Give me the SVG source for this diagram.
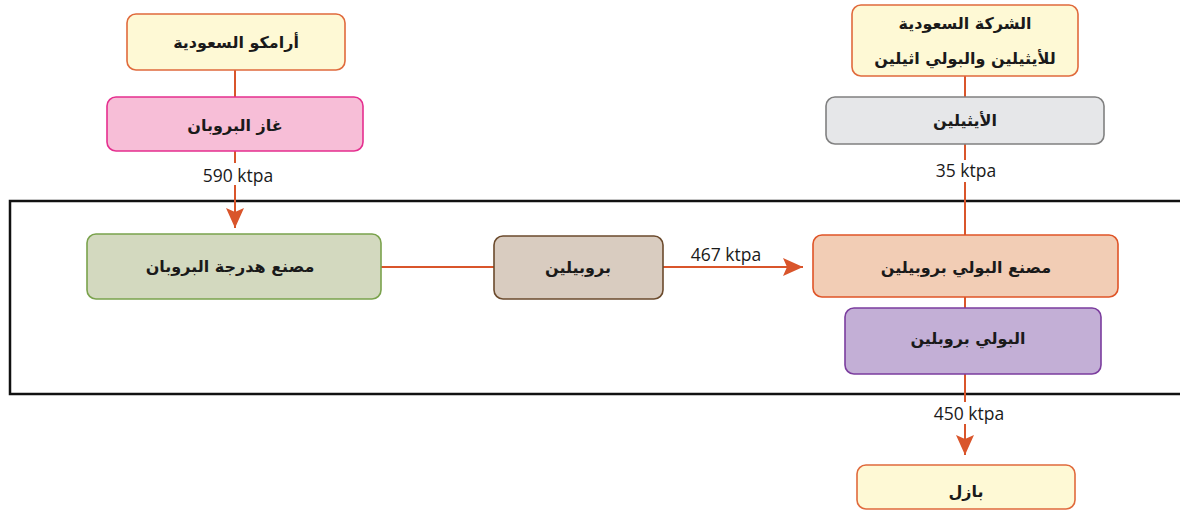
<svg xmlns="http://www.w3.org/2000/svg" width="1180" height="511" viewBox="0 0 1180 511">
<style>
.box{stroke-width:1.6}
.ar{font-family:"DejaVu Sans",sans-serif;font-weight:bold;font-size:16px;fill:#1a1a1a;text-anchor:middle;dominant-baseline:central}
.lbl{font-family:"Open Sans","Noto Sans",sans-serif;font-size:17.5px;fill:#1a1a1a;text-anchor:middle}
.con{stroke:#d9552b;stroke-width:2;fill:none}
</style>
<defs>
<marker id="ah" markerWidth="20" markerHeight="20" viewBox="0 0 20 20" refX="20" refY="10" orient="auto" markerUnits="userSpaceOnUse">
<path d="M0,1 L20,10 L0,19 L4,10 Z" fill="#d9552b"/>
</marker>
</defs>
<rect x="10" y="201" width="1185" height="193" fill="#fff" stroke="#111" stroke-width="2.5"/>
<g id="connectors">
<line class="con" x1="235" y1="70" x2="235" y2="97"/>
<line class="con" x1="235" y1="151" x2="235" y2="228" marker-end="url(#ah)"/>
<line class="con" x1="381" y1="267" x2="494" y2="267"/>
<line class="con" x1="663" y1="267" x2="803" y2="267" marker-end="url(#ah)"/>
<line class="con" x1="965" y1="76" x2="965" y2="97"/>
<line class="con" x1="965" y1="144" x2="965" y2="235"/>
<line class="con" x1="965" y1="297" x2="965" y2="308"/>
<line class="con" x1="965" y1="374" x2="965" y2="455" marker-end="url(#ah)"/>
<rect x="197" y="163" width="82" height="22" fill="#fff"/>
<text class="lbl" x="238" y="182">590 ktpa</text>
<rect x="936" y="160" width="60" height="22" fill="#fff"/>
<text class="lbl" x="966" y="177">35 ktpa</text>
<text class="lbl" x="726" y="261">467 ktpa</text>
<rect x="928" y="402" width="82" height="22" fill="#fff"/>
<text class="lbl" x="969" y="420">450 ktpa</text>
</g>
<g id="aramco">
<rect class="box" x="127" y="14" width="218" height="56" rx="9" fill="#fef9d5" stroke="#e06a3c"/>
<text class="ar" x="236" y="42">أرامكو السعودية</text>
</g>
<g id="propane-gas">
<rect class="box" x="107" y="97" width="256" height="54" rx="9" fill="#f7bed7" stroke="#e52f8f"/>
<text class="ar" x="235" y="125">غاز البروبان</text>
</g>
<g id="company">
<rect class="box" x="852" y="5" width="226" height="71" rx="9" fill="#fef9d5" stroke="#e06a3c"/>
<text class="ar" x="965" y="23">الشركة السعودية</text>
<text class="ar" x="965" y="58">للأيثيلين والبولي اثيلين</text>
</g>
<g id="ethylene">
<rect class="box" x="826" y="97" width="278" height="47" rx="9" fill="#e6e7e9" stroke="#808080"/>
<text class="ar" x="965" y="120">الأيثيلين</text>
</g>
<g id="dehydro">
<rect class="box" x="87" y="234" width="294" height="65" rx="9" fill="#d3d9bf" stroke="#7aa24c"/>
<text class="ar" x="230" y="266">مصنع هدرجة البروبان</text>
</g>
<g id="propylene">
<rect class="box" x="494" y="236" width="169" height="63" rx="9" fill="#d9ccc0" stroke="#6b4a2c"/>
<text class="ar" x="578" y="267">بروبيلين</text>
</g>
<g id="pp-plant">
<rect class="box" x="813" y="235" width="305" height="62" rx="9" fill="#f2cdb5" stroke="#df5427"/>
<text class="ar" x="966" y="267">مصنع البولي بروبيلين</text>
</g>
<g id="polypropylene">
<rect class="box" x="845" y="308" width="256" height="66" rx="9" fill="#c3afd6" stroke="#7b3d9e"/>
<text class="ar" x="968" y="338">البولي بروبلين</text>
</g>
<g id="basel">
<rect class="box" x="857" y="465" width="218" height="44" rx="9" fill="#fef9d5" stroke="#e06a3c"/>
<text class="ar" x="966" y="491">بازل</text>
</g>
</svg>
